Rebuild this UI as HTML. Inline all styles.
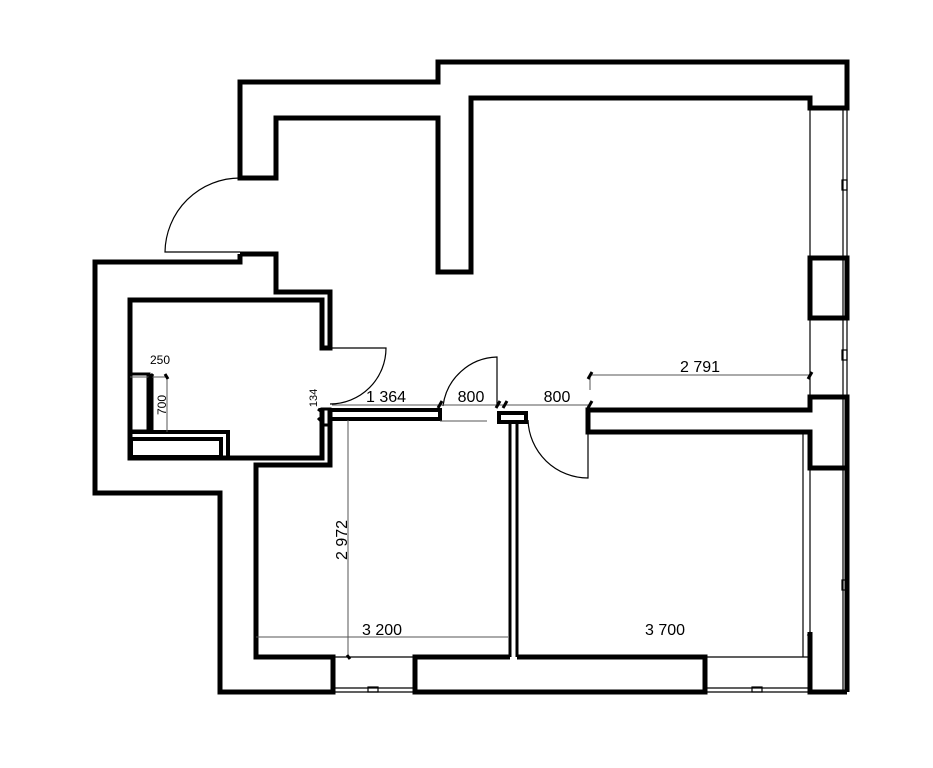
<!DOCTYPE html>
<html><head><meta charset="utf-8"><style>
html,body{margin:0;padding:0;background:#fff;}
svg{display:block;}
text{font-family:"Liberation Sans",sans-serif;fill:#000;}
</style></head><body>
<svg width="933" height="768" viewBox="0 0 933 768" xmlns="http://www.w3.org/2000/svg">
<g fill="none" stroke="#000" stroke-width="5" stroke-linejoin="miter">
<path d="M240,178 L240,82 L438,82 L438,62 L847,62 L847,108 L810,108 L810,98 L471,98 L471,272 L438,272 L438,118 L276,118 L276,178 Z"/>
<path d="M240,254 L240,262 L95,262 L95,493 L220,493 L220,692 L333,692 L333,657 L256,657 L256,465 L330,465 L330,408"/>
<path d="M240,254 L276,254 L276,292 L330,292 L330,348 L322,348 L322,300 L130,300 L130,458 L322,458 L322,408"/>
<rect x="131" y="374" width="18" height="57" stroke-width="3"/>
<line x1="150" y1="374" x2="150" y2="431" stroke-width="7"/>
<path d="M130,432 L228,432 L228,458" stroke-width="4"/>
<rect x="131" y="439" width="90" height="18" stroke-width="4"/>
<rect x="330" y="410" width="110" height="9" stroke-width="4"/>
<rect x="322" y="409" width="8" height="16" stroke-width="3"/>
<rect x="499" y="413" width="27" height="9" stroke-width="4"/>
<line x1="510" y1="422" x2="510" y2="657" stroke-width="3"/>
<line x1="517" y1="422" x2="517" y2="657" stroke-width="3"/>
<path d="M588,410 L810,410 L810,397 L847,397 L847,468 L810,468 L810,432 L588,432 Z"/>
<rect x="810" y="258" width="37" height="60"/>
<path d="M517,657 L705,657 L705,692 L415,692 L415,657 L510,657" />
<path d="M810,632 L810,692 L847,692"/>
<line x1="847" y1="468" x2="847" y2="692"/>
</g>
<g fill="none" stroke="#000" stroke-width="1.2">
<line x1="843" y1="108" x2="843" y2="692"/>
<line x1="847" y1="108" x2="847" y2="258"/>
<line x1="847" y1="318" x2="847" y2="397"/>
<line x1="810" y1="108" x2="810" y2="258"/>
<line x1="810" y1="318" x2="810" y2="397"/>
<line x1="810" y1="468" x2="810" y2="632"/>
<line x1="803" y1="432" x2="803" y2="657"/>
<rect x="842" y="180" width="5" height="10"/>
<rect x="842" y="350" width="5" height="10"/>
<rect x="842" y="580" width="5" height="10"/>
<line x1="333" y1="688" x2="415" y2="688"/>
<line x1="333" y1="692" x2="415" y2="692"/>
<line x1="705" y1="688" x2="810" y2="688"/>
<line x1="705" y1="692" x2="810" y2="692"/>
<line x1="333" y1="657" x2="415" y2="657"/>
<line x1="705" y1="657" x2="810" y2="657"/>
<rect x="368" y="687" width="10" height="5"/>
<rect x="752" y="687" width="10" height="5"/>
<path d="M240,178 A75,75 0 0 0 165,252 L240,252"/>
<path d="M330,348 L386,348 A56,56 0 0 1 330,404"/>
<path d="M443,406 A56,56 0 0 1 497,357 L497,406"/>
<path d="M528,420 A60,60 0 0 0 588,478 L588,410"/>
</g>
<g stroke="#555" stroke-width="1" fill="none">
<line x1="590" y1="375" x2="810" y2="375"/>
<line x1="590" y1="375" x2="590" y2="390"/>
<line x1="332" y1="405" x2="590" y2="405"/>
<line x1="440" y1="421" x2="487" y2="421"/>
<line x1="348" y1="420" x2="348" y2="657"/>
<line x1="256" y1="637" x2="508" y2="637"/>
<line x1="130" y1="377" x2="168" y2="377"/>
<line x1="167" y1="377" x2="167" y2="432"/>
</g>
<g stroke="#000" stroke-width="3">
<line x1="588" y1="379" x2="592" y2="372"/>
<line x1="808" y1="379" x2="812" y2="372"/>
<line x1="438" y1="408" x2="442" y2="401"/>
<line x1="496" y1="408" x2="500" y2="401"/>
<line x1="503" y1="408" x2="507" y2="401"/>
<line x1="588" y1="408" x2="592" y2="401"/>
<line x1="148" y1="380" x2="153" y2="374"/>
<line x1="165" y1="374" x2="168" y2="379"/>
<line x1="318" y1="409" x2="322" y2="412"/>
<line x1="318" y1="418" x2="322" y2="422"/>
<line x1="347" y1="655" x2="350" y2="659"/>
<line x1="808" y1="636" x2="811" y2="632"/>
</g>
<text x="700" y="372" font-size="16" text-anchor="middle">2 791</text>
<text x="386" y="402" font-size="16" text-anchor="middle">1 364</text>
<text x="471" y="402" font-size="16" text-anchor="middle">800</text>
<text x="557" y="402" font-size="16" text-anchor="middle">800</text>
<text x="382" y="635" font-size="16" text-anchor="middle">3 200</text>
<text x="665" y="635" font-size="16" text-anchor="middle">3 700</text>
<text x="160" y="364" font-size="12" text-anchor="middle">250</text>
<text transform="translate(166,405) rotate(-90)" font-size="12" text-anchor="middle">700</text>
<text transform="translate(317,398) rotate(-90)" font-size="11" text-anchor="middle">134</text>
<text transform="translate(347,540) rotate(-90)" font-size="16" text-anchor="middle">2 972</text>
</svg>
</body></html>
